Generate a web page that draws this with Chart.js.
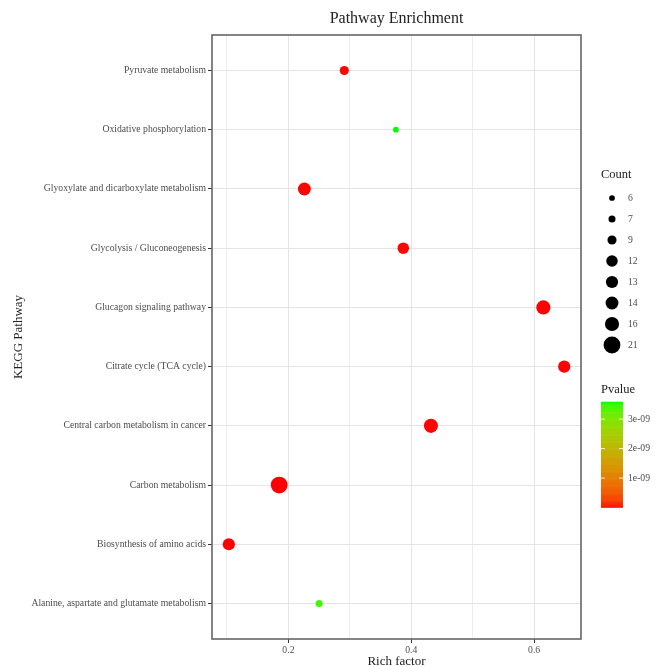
<!DOCTYPE html>
<html><head><meta charset="utf-8">
<script src="https://cdn.jsdelivr.net/npm/chart.js@4.4.1/dist/chart.umd.min.js"></script>
<style>html,body{margin:0;padding:0;background:#fff}canvas{display:block}</style>
</head><body>
<canvas id="c" width="659" height="667"></canvas>
<script>
// ---- data (bottom to top, as on the y axis) ----
const pathways = [
  "Alanine, aspartate and glutamate metabolism",
  "Biosynthesis of amino acids",
  "Carbon metabolism",
  "Central carbon metabolism in cancer",
  "Citrate cycle (TCA cycle)",
  "Glucagon signaling pathway",
  "Glycolysis / Gluconeogenesis",
  "Glyoxylate and dicarboxylate metabolism",
  "Oxidative phosphorylation",
  "Pyruvate metabolism"
];
const richFactor = [0.250, 0.103, 0.185, 0.432, 0.649, 0.615, 0.387, 0.226, 0.375, 0.291];
const geneCount  = [7, 13, 21, 16, 13, 16, 12, 14, 6, 9];
const pValue     = [3.45e-9, 2.1e-13, 4.0e-15, 6.2e-12, 1.5e-12, 3.1e-13, 8.0e-12, 2.4e-12, 3.58e-9, 5.5e-12];
const xTicks      = [0.1, 0.2, 0.3, 0.4, 0.5, 0.6];
const xTickLabels = ["", "0.2", "", "0.4", "", "0.6"];
const countLegend = [6, 7, 9, 12, 13, 14, 16, 21];
const pTicks      = [1e-9, 2e-9, 3e-9];
const pTickLabels = ["1e-09", "2e-09", "3e-09"];

const SERIF = '"Liberation Serif","Times New Roman","DejaVu Serif",serif';

// ---- colour scale: red -> green interpolated in CIELAB (like ggplot) ----
function s2l(c){c/=255;return c<=0.04045?c/12.92:Math.pow((c+0.055)/1.055,2.4);}
function l2s(c){c=c<=0.0031308?12.92*c:1.055*Math.pow(c,1/2.4)-0.055;return Math.round(Math.max(0,Math.min(1,c))*255);}
function rgb2lab(rgb){
  const R=s2l(rgb[0]),G=s2l(rgb[1]),B=s2l(rgb[2]);
  let X=(0.4124*R+0.3576*G+0.1805*B)/0.95047, Y=0.2126*R+0.7152*G+0.0722*B, Z=(0.0193*R+0.1192*G+0.9505*B)/1.08883;
  const f=t=>t>0.008856?Math.cbrt(t):7.787*t+16/116;
  const fx=f(X),fy=f(Y),fz=f(Z);
  return [116*fy-16,500*(fx-fy),200*(fy-fz)];
}
function lab2rgb(lab){
  const fy=(lab[0]+16)/116, fx=fy+lab[1]/500, fz=fy-lab[2]/200;
  const fi=t=>t*t*t>0.008856?t*t*t:(t-16/116)/7.787;
  const X=fi(fx)*0.95047, Y=fi(fy), Z=fi(fz)*1.08883;
  return [l2s(3.2406*X-1.5372*Y-0.4986*Z), l2s(-0.9689*X+1.8758*Y+0.0415*Z), l2s(0.0557*X-0.2040*Y+1.0570*Z)];
}
const LOW = rgb2lab([255,0,0]), HIGH = rgb2lab([0,255,0]);
const pMin = Math.min(...pValue), pMax = Math.max(...pValue);
function colorAtT(t){
  const c = lab2rgb([0,1,2].map(k=>LOW[k]+(HIGH[k]-LOW[k])*t));
  return `rgb(${c[0]},${c[1]},${c[2]})`;
}
function colorFor(p){ return colorAtT((p-pMin)/(pMax-pMin)); }

// ---- size scale (area proportional to count) ----
const cMin = Math.min(...countLegend), cMax = Math.max(...countLegend);
function diamFor(c){ return Math.sqrt(33 + 250*(c-cMin)/(cMax-cMin)); }

// ---- plugins ----
const panelBorder = {
  id: 'panelBorder',
  afterDraw(chart){
    const {ctx, chartArea:a} = chart;
    ctx.save();
    ctx.strokeStyle = '#666';
    ctx.lineWidth = 1.6;
    ctx.strokeRect(a.left, a.top, a.right-a.left, a.bottom-a.top);
    ctx.restore();
  }
};

const sideLegends = {
  id: 'sideLegends',
  afterDraw(chart){
    const ctx = chart.ctx;
    ctx.save();
    // Count legend
    ctx.fillStyle = '#222';
    ctx.font = `12.5px ${SERIF}`;
    ctx.textAlign = 'left';
    ctx.textBaseline = 'middle';
    ctx.fillText('Count', 601, 175);
    countLegend.forEach((c,i)=>{
      const y = 198 + i*21;
      ctx.beginPath();
      ctx.fillStyle = '#000';
      ctx.arc(612, y, diamFor(c)/2, 0, Math.PI*2);
      ctx.fill();
      ctx.fillStyle = '#4d4d4d';
      ctx.font = `9.7px ${SERIF}`;
      ctx.fillText(String(c), 628, y);
    });
    // Pvalue colour bar
    ctx.fillStyle = '#222';
    ctx.font = `12.5px ${SERIF}`;
    ctx.fillText('Pvalue', 601, 390);
    const bx = 601, bw = 22, top = 402, bottom = 507.5, h = bottom-top;
    const n = 120;
    for(let i=0;i<n;i++){
      const t0 = i/n;
      ctx.fillStyle = colorAtT(t0 + 0.5/n);
      ctx.fillRect(bx, bottom - (i+1)*h/n - 0.3, bw, h/n + 0.6);
    }
    pTicks.forEach((v,i)=>{
      const y = bottom - (v-pMin)/(pMax-pMin)*h;
      ctx.strokeStyle = 'rgba(255,255,255,0.8)';
      ctx.lineWidth = 1;
      ctx.beginPath();
      ctx.moveTo(bx, y); ctx.lineTo(bx+4, y);
      ctx.moveTo(bx+bw-4, y); ctx.lineTo(bx+bw, y);
      ctx.stroke();
      ctx.fillStyle = '#4d4d4d';
      ctx.font = `9.7px ${SERIF}`;
      ctx.fillText(pTickLabels[i], 628, y);
    });
    ctx.restore();
  }
};

new Chart(document.getElementById('c').getContext('2d'), {
  type: 'bubble',
  data: {
    datasets: [{
      data: pathways.map((p,i)=>({x: richFactor[i], y: i+1, r: diamFor(geneCount[i])/2})),
      backgroundColor: pValue.map(colorFor),
      borderWidth: 0,
      hoverBorderWidth: 0
    }]
  },
  options: {
    responsive: false,
    animation: false,
    devicePixelRatio: 1,
    events: [],
    layout: {padding: {left: 0, right: 78, top: 0, bottom: 0}},
    plugins: {
      legend: {display: false},
      tooltip: {enabled: false},
      title: {
        display: true, text: 'Pathway Enrichment', color: '#222',
        fullSize: false,
        font: {family: SERIF, size: 16, weight: 'normal', lineHeight: 1.2},
        padding: {top: 9, bottom: 6.8}
      }
    },
    scales: {
      x: {
        type: 'linear', min: 0.0756, max: 0.6763,
        afterBuildTicks: s => { s.ticks = xTicks.map(v=>({value: v})); },
        afterFit: s => { s.height = 28; },
        ticks: {
          callback: (v,i) => xTickLabels[i],
          font: {family: SERIF, size: 9.7}, color: '#4d4d4d',
          padding: 2, maxRotation: 0, autoSkip: false
        },
        grid: {
          color: c => (c.tick && xTickLabels[c.index]) ? '#e4e4e4' : '#ededed',
          lineWidth: 1,
          tickColor: c => (c.tick && xTickLabels[c.index]) ? '#333' : 'rgba(0,0,0,0)',
          tickLength: 4
        },
        border: {display: false},
        title: {
          display: true, text: 'Rich factor', color: '#222',
          font: {family: SERIF, size: 13, lineHeight: 1}, padding: {top: 0, bottom: -1.5}
        }
      },
      y: {
        type: 'linear', min: 0.4, max: 10.6,
        afterBuildTicks: s => { s.ticks = pathways.map((p,i)=>({value: i+1})); },
        afterFit: s => { s.width = 212; },
        ticks: {
          callback: (v,i) => pathways[i],
          font: {family: SERIF, size: 9.7}, color: '#4d4d4d',
          padding: 2, autoSkip: false
        },
        grid: {color: '#e4e4e4', lineWidth: 1, tickColor: '#333', tickLength: 4},
        border: {display: false},
        title: {
          display: true, text: 'KEGG Pathway', color: '#222',
          font: {family: SERIF, size: 13}, padding: {top: 11, bottom: 0}
        }
      }
    }
  },
  plugins: [panelBorder, sideLegends]
});
</script>
</body></html>
